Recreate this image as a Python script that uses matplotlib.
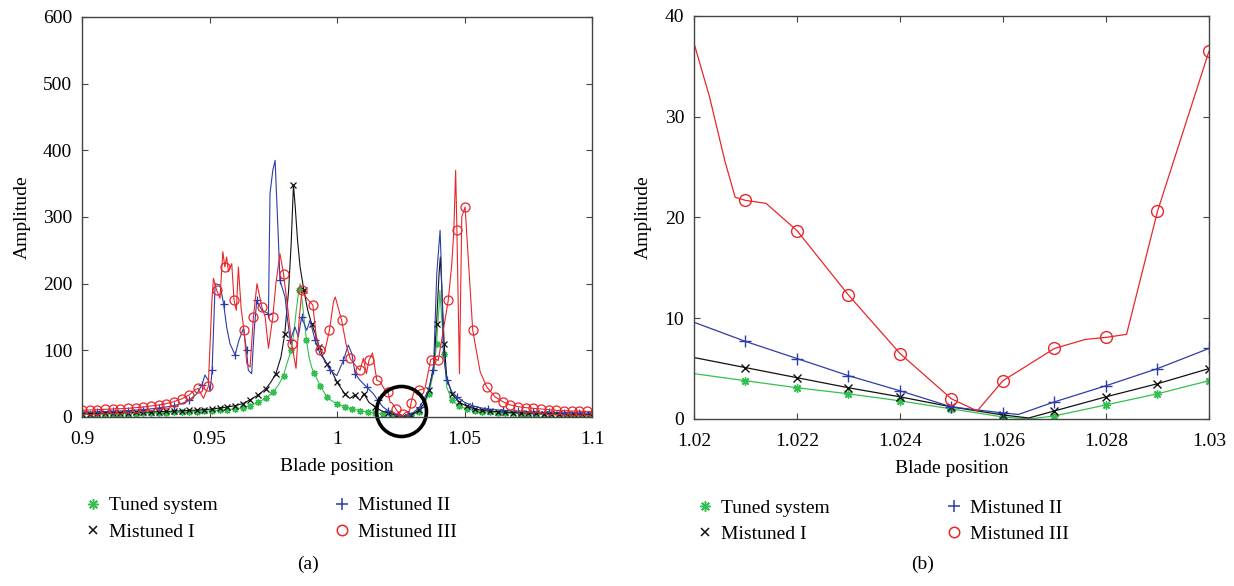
import matplotlib
matplotlib.use("Agg")
import matplotlib.pyplot as plt

plt.rcParams['font.family'] = ['Liberation Serif', 'DejaVu Serif']
plt.rcParams['font.size'] = 14

# --- data (blade position, amplitude) ---
tuned_x = [0.900, 0.903, 0.906, 0.909, 0.912, 0.915, 0.918, 0.921, 0.924, 0.927,
           0.930, 0.933, 0.936, 0.939, 0.942, 0.945, 0.948, 0.951, 0.954, 0.957,
           0.960, 0.963, 0.966, 0.969, 0.972, 0.975, 0.977, 0.979, 0.980, 0.981,
           0.982, 0.983, 0.984, 0.985, 0.9855, 0.986, 0.987, 0.988, 0.989, 0.990,
           0.991, 0.9935, 0.996, 0.998, 1.000, 1.003, 1.006, 1.009, 1.012, 1.015,
           1.018, 1.020, 1.021, 1.022, 1.023, 1.024, 1.025, 1.026, 1.0265, 1.027,
           1.028, 1.029, 1.030, 1.032, 1.034, 1.036, 1.038, 1.039, 1.040, 1.0403,
           1.041, 1.042, 1.043, 1.045, 1.048, 1.051, 1.054, 1.057, 1.060, 1.063,
           1.066, 1.069, 1.072, 1.075, 1.078, 1.081, 1.084, 1.087, 1.090, 1.093,
           1.096, 1.099, 1.100]
tuned_y = [4.0, 4.0, 4.2, 4.4, 4.6, 4.8, 5.0, 5.2, 5.5, 5.8,
           6.1, 6.4, 6.8, 7.2, 7.7, 8.2, 8.8, 9.5, 10.3, 11.2,
           12.0, 14.0, 17.0, 22.0, 28.0, 38.0, 48.0, 62.0, 76.0, 88.0,
           100.0, 125.0, 160.0, 190.0, 200.0, 185.0, 150.0, 115.0, 90.0, 75.0,
           66.0, 46.0, 30.0, 24.0, 20.0, 15.0, 12.0, 9.5, 7.5, 6.0,
           5.0, 4.5, 3.8, 3.1, 2.5, 1.8, 1.0, 0.2, 0.0, 0.3,
           1.4, 2.5, 3.8, 8.0, 16.0, 35.0, 70.0, 110.0, 165.0, 190.0,
           150.0, 95.0, 45.0, 25.0, 16.0, 12.0, 9.5, 8.0, 7.0, 6.3,
           5.8, 5.4, 5.0, 4.7, 4.5, 4.3, 4.0, 3.9, 3.7, 3.6,
           3.5, 3.4, 3.3]

mist1_x = [0.900, 0.903, 0.906, 0.909, 0.912, 0.915, 0.918, 0.921, 0.924, 0.927,
           0.930, 0.933, 0.936, 0.939, 0.942, 0.945, 0.948, 0.951, 0.954, 0.957,
           0.960, 0.963, 0.966, 0.969, 0.972, 0.974, 0.976, 0.978, 0.9795, 0.981,
           0.982, 0.9829, 0.9835, 0.9845, 0.9855, 0.987, 0.9885, 0.990, 0.9915, 0.993,
           0.9945, 0.996, 0.998, 1.000, 1.003, 1.005, 1.007, 1.009, 1.0105, 1.0125,
           1.015, 1.0175, 1.020, 1.021, 1.022, 1.023, 1.024, 1.025, 1.026, 1.0265,
           1.027, 1.028, 1.029, 1.030, 1.032, 1.034, 1.036, 1.038, 1.039, 1.040,
           1.0405, 1.041, 1.042, 1.043, 1.045, 1.048, 1.051, 1.054, 1.057, 1.060,
           1.063, 1.066, 1.069, 1.072, 1.075, 1.078, 1.081, 1.084, 1.087, 1.090,
           1.093, 1.096, 1.099, 1.100]
mist1_y = [5.0, 5.2, 5.4, 5.6, 5.9, 6.2, 6.5, 6.8, 7.1, 7.5,
           7.9, 8.3, 8.8, 9.3, 9.8, 10.4, 11.0, 12.0, 13.5, 15.0,
           17.0, 20.0, 26.0, 33.0, 42.0, 52.0, 65.0, 90.0, 125.0, 190.0,
           260.0, 348.0, 320.0, 265.0, 225.0, 190.0, 160.0, 140.0, 125.0, 105.0,
           90.0, 80.0, 68.0, 52.0, 35.0, 28.0, 33.0, 25.0, 35.0, 22.0,
           15.0, 9.0, 6.1, 5.1, 4.1, 3.1, 2.2, 1.2, 0.4, 0.1,
           0.8, 2.2, 3.5, 5.0, 10.0, 20.0, 40.0, 80.0, 140.0, 215.0,
           240.0, 200.0, 110.0, 60.0, 35.0, 22.0, 16.0, 12.0, 10.0, 8.8,
           8.0, 7.3, 6.7, 6.2, 5.8, 5.5, 5.2, 5.0, 4.8, 4.6,
           4.4, 4.2, 4.1, 4.0]

mist2_x = [0.900, 0.903, 0.906, 0.909, 0.912, 0.915, 0.918, 0.921, 0.924, 0.927,
           0.930, 0.933, 0.936, 0.939, 0.942, 0.945, 0.947, 0.9482, 0.9495, 0.9502,
           0.951, 0.9522, 0.9541, 0.9555, 0.9567, 0.958, 0.960, 0.9615, 0.9633, 0.9645,
           0.9652, 0.9665, 0.9675, 0.9685, 0.9705, 0.9731, 0.9737, 0.9748, 0.9757, 0.9763,
           0.977, 0.9776, 0.9796, 0.9803, 0.9816, 0.9835, 0.9848, 0.9861, 0.9881, 0.9894,
           0.9914, 0.9933, 0.9946, 0.9973, 0.9999, 1.0025, 1.0044, 1.0058, 1.0071, 1.009,
           1.0116, 1.0142, 1.016, 1.018, 1.020, 1.021, 1.022, 1.023, 1.024, 1.025,
           1.026, 1.0263, 1.027, 1.028, 1.029, 1.030, 1.0325, 1.0358, 1.0378, 1.0391,
           1.0404, 1.0408, 1.0417, 1.043, 1.045, 1.047, 1.050, 1.053, 1.056, 1.059,
           1.062, 1.065, 1.068, 1.071, 1.074, 1.077, 1.080, 1.083, 1.086, 1.089,
           1.092, 1.095, 1.098, 1.100]
mist2_y = [7.0, 7.3, 7.6, 8.0, 8.5, 9.0, 9.6, 10.3, 11.2, 12.2,
           13.5, 15.0, 17.0, 20.0, 25.0, 35.0, 48.0, 63.0, 55.0, 38.0,
           70.0, 200.0, 198.0, 170.0, 135.0, 110.0, 93.0, 115.0, 133.0, 100.0,
           70.0, 65.0, 130.0, 175.0, 160.0, 155.0, 335.0, 370.0, 385.0, 330.0,
           265.0, 205.0, 180.0, 155.0, 115.0, 135.0, 120.0, 150.0, 130.0, 145.0,
           115.0, 95.0, 88.0, 70.0, 62.0, 85.0, 108.0, 95.0, 65.0, 55.0,
           45.0, 35.0, 25.0, 15.0, 9.6, 7.7, 6.0, 4.3, 2.8, 1.2,
           0.6, 0.45, 1.7, 3.3, 5.0, 7.0, 15.0, 40.0, 70.0, 215.0,
           280.0, 235.0, 95.0, 55.0, 38.0, 30.0, 22.0, 17.0, 14.0, 12.0,
           11.0, 10.0, 9.0, 8.5, 8.0, 7.6, 7.2, 7.0, 6.7, 6.4,
           6.2, 6.0, 5.8, 5.7]

mist3_x = [0.900, 0.903, 0.906, 0.909, 0.912, 0.915, 0.918, 0.921, 0.924, 0.927,
           0.930, 0.933, 0.936, 0.939, 0.942, 0.944, 0.9455, 0.9476, 0.9495, 0.9509,
           0.9515, 0.9528, 0.9541, 0.9552, 0.956, 0.9567, 0.9574, 0.9587, 0.9596, 0.9605,
           0.9613, 0.9624, 0.9635, 0.9646, 0.9659, 0.9672, 0.9686, 0.9705, 0.9718, 0.9731,
           0.9748, 0.976, 0.9776, 0.979, 0.9809, 0.9822, 0.9839, 0.985, 0.9862, 0.9881,
           0.9905, 0.992, 0.9935, 0.995, 0.997, 0.9986, 0.9993, 1.0018, 1.0035, 1.0051,
           1.0077, 1.009, 1.0103, 1.0115, 1.0125, 1.0139, 1.0156, 1.0169, 1.0185, 1.020,
           1.0203, 1.0206, 1.0208, 1.021, 1.0214, 1.022, 1.023, 1.024, 1.025, 1.0255,
           1.026, 1.027, 1.0276, 1.028, 1.0284, 1.029, 1.030, 1.032, 1.0345, 1.0367,
           1.0378, 1.0397, 1.041, 1.0436, 1.045, 1.0458, 1.0465, 1.047, 1.048, 1.0489,
           1.0502, 1.0515, 1.0532, 1.0561, 1.0587, 1.062, 1.065, 1.068, 1.071, 1.074,
           1.077, 1.080, 1.083, 1.086, 1.089, 1.092, 1.095, 1.098, 1.100]
mist3_y = [10.0, 10.5, 11.0, 11.5, 12.0, 12.5, 13.0, 14.0, 15.0, 16.5,
           18.0, 20.0, 23.0, 27.0, 33.0, 40.0, 43.0, 28.0, 46.0, 173.0,
           208.0, 190.0, 178.0, 248.0, 225.0, 240.0, 218.0, 230.0, 175.0, 160.0,
           225.0, 162.0, 130.0, 80.0, 75.0, 150.0, 200.0, 165.0, 150.0, 103.0,
           150.0, 200.0, 245.0, 215.0, 155.0, 110.0, 73.0, 140.0, 190.0, 178.0,
           168.0, 115.0, 100.0, 95.0, 130.0, 173.0, 180.0, 145.0, 110.0, 88.0,
           75.0, 70.0, 88.0, 65.0, 85.0, 96.0, 55.0, 53.0, 42.0, 37.3,
           32.0, 25.6, 22.0, 21.7, 21.4, 18.7, 12.3, 6.5, 2.0, 0.8,
           3.8, 7.0, 7.9, 8.1, 8.4, 20.6, 36.5, 40.0, 43.0, 86.0,
           88.0, 85.0, 115.0, 175.0, 230.0, 280.0, 370.0, 280.0, 65.0, 300.0,
           315.0, 235.0, 130.0, 68.0, 45.0, 30.0, 23.0, 18.0, 15.5, 14.0,
           13.0, 12.0, 11.0, 10.0, 9.5, 9.0, 8.7, 8.3, 8.0]

labels = ["Tuned system", "Mistuned I", "Mistuned II", "Mistuned III"]
colors = ["#34c050", "#111111", "#2e3ca8", "#e8262b"]
markers = [(8, 2, 0), "x", "+", "o"]
series = [(tuned_x, tuned_y), (mist1_x, mist1_y), (mist2_x, mist2_y), (mist3_x, mist3_y)]
left_steps = [0.0025, 0.003, 0.004, 0.003]
left_ms = [5.0, 4.0, 6.0, 6.5]
right_ms = [6.0, 5.5, 8.0, 8.5]
legend_ms = [7.5, 5.5, 9.0, 7.5]


def pick_marks(x, step):
    """Indices spaced at least `step` apart along x."""
    idx = [0]
    last = x[0]
    for i, xv in enumerate(x):
        if xv - last >= step - 1e-9:
            idx.append(i)
            last = xv
    return idx


def grid_marks(x, lo, hi):
    """Indices of points sitting on the 0.001 grid inside (lo, hi)."""
    return [i for i, v in enumerate(x)
            if lo < v < hi and abs(v * 1000 - round(v * 1000)) < 1e-6]


def style_axes(ax):
    for s in ax.spines.values():
        s.set_color("#444444")
        s.set_linewidth(1.0)
    ax.tick_params(direction="in", top=True, right=True, length=4,
                   color="#444444", labelsize=14)
    ax.tick_params(axis="x", pad=10)
    ax.tick_params(axis="y", pad=7)
    ax.set_xlabel("Blade position", fontsize=14, labelpad=7)
    ax.set_ylabel("Amplitude", fontsize=14, labelpad=9)


fig = plt.figure(figsize=(12.34, 5.86), dpi=100)
ax1 = fig.add_axes([0.0665, 0.2884, 0.4133, 0.6826])
ax2 = fig.add_axes([0.5624, 0.2850, 0.4173, 0.6877])

# panel (a)
handles = []
for (x, y), c, m, lab, st, ms, lms in zip(series, colors, markers, labels,
                                          left_steps, left_ms, legend_ms):
    mfc = "none" if m == "o" else c
    ax1.plot(x, y, color=c, lw=0.8, marker=m, ms=ms,
             mfc=mfc, mec=c, mew=0.9, markevery=pick_marks(x, st))
    h, = ax1.plot([], [], ls="none", color=c, marker=m, ms=lms, mfc=mfc, mec=c,
                  mew=1.1, label=lab)
    handles.append(h)
ax1.plot([1.025], [9], marker="o", ms=36, mfc="none", mec="black", mew=2.6,
         clip_on=False)
ax1.set_xlim(0.9, 1.1)
ax1.set_ylim(0, 600)
ax1.set_xticks([0.9, 0.95, 1.0, 1.05, 1.1])
ax1.set_xticklabels(["0.9", "0.95", "1", "1.05", "1.1"])
ax1.set_yticks(range(0, 601, 100))
style_axes(ax1)

# panel (b)
for (x, y), c, m, ms in zip(series, colors, markers, right_ms):
    mfc = "none" if m == "o" else c
    ax2.plot(x, y, color=c, lw=0.9, marker=m, ms=ms,
             mfc=mfc, mec=c, mew=1.0, markevery=grid_marks(x, 1.0205, 1.0305))
ax2.set_xlim(1.02, 1.03)
ax2.set_ylim(0, 40)
ax2.set_xticks([1.02, 1.022, 1.024, 1.026, 1.028, 1.03])
ax2.set_xticklabels(["1.02", "1.022", "1.024", "1.026", "1.028", "1.03"])
ax2.set_yticks(range(0, 41, 10))
style_axes(ax2)

for ax in (ax1, ax2):
    ax.legend(handles=handles, loc="upper left", bbox_to_anchor=(-0.012, -0.18),
              ncol=2, frameon=False, fontsize=14, handlelength=1.0,
              handletextpad=0.3, columnspacing=5.9, labelspacing=0.45,
              borderaxespad=0)

fig.text(0.2496, 0.022, "(a)", ha="center", va="bottom", fontsize=14)
fig.text(0.748, 0.022, "(b)", ha="center", va="bottom", fontsize=14)

fig.savefig("out.png", dpi=100)
